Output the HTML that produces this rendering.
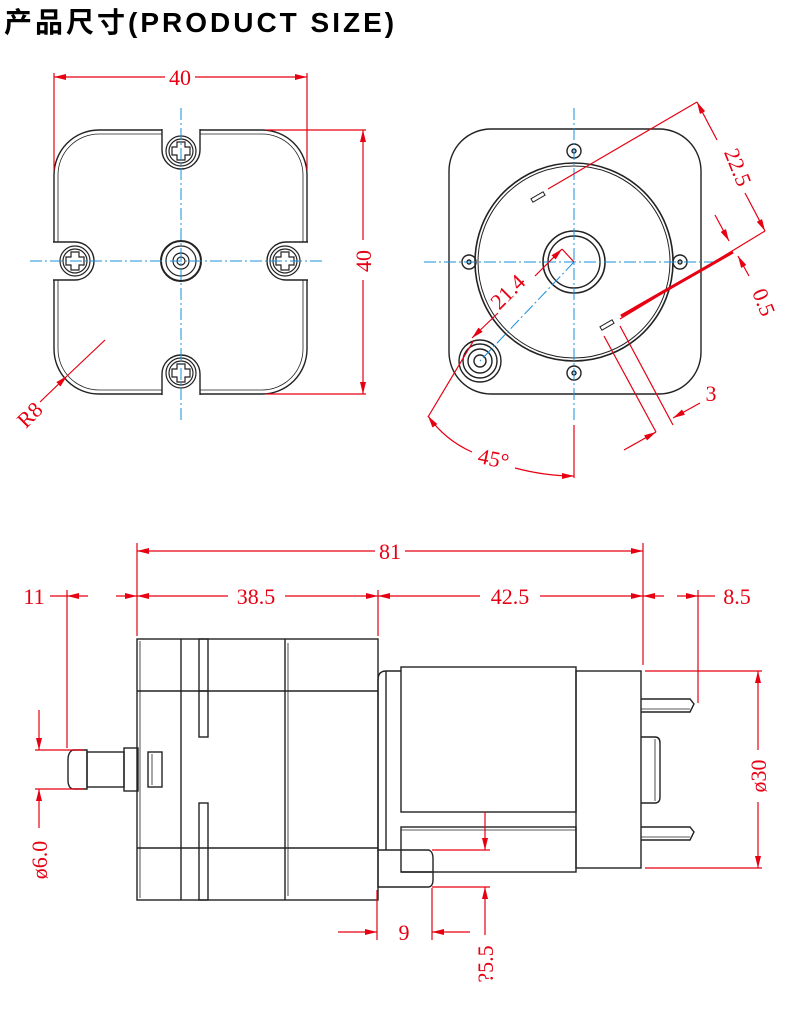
<!DOCTYPE html>
<html><head><meta charset="utf-8"><style>
html,body{margin:0;padding:0;background:#fff;}
svg{display:block;}
.t{font-family:"Liberation Sans","Noto Sans CJK SC",sans-serif;font-weight:bold;}
.d{font-family:"Liberation Serif","DejaVu Serif",serif;fill:#e60012;font-size:22px;}
</style></head><body>
<svg width="790" height="1015" viewBox="0 0 790 1015" xmlns="http://www.w3.org/2000/svg">
<defs>
<marker id="a" viewBox="0 0 12 6" refX="12" refY="3" markerWidth="12" markerHeight="6" markerUnits="userSpaceOnUse" orient="auto-start-reverse"><path d="M0,0 L12,3 L0,6 Z" fill="#e60012"/></marker>
</defs>
<text x="4" y="32" class="t" font-size="28" letter-spacing="3">产品尺寸(PRODUCT SIZE)</text>

<!-- ========== LEFT VIEW ========== -->
<g fill="none" stroke="#222" stroke-width="1.4">
<rect x="54" y="130" width="253" height="264" rx="45"/>
<rect x="58" y="134" width="245" height="256" rx="41" stroke-width="0.8"/>
</g>
<g fill="#fff" stroke="#222" stroke-width="1.4">
<path d="M162,129 V150 A19,19 0 0 0 200,150 V129"/>
<path d="M162,395 V374 A19,19 0 0 1 200,374 V395"/>
<path d="M53,242 H75 A19,19 0 0 1 75,280 H53"/>
<path d="M308,242 H286 A19,19 0 0 0 286,280 H308"/>
</g>
<g fill="none" stroke="#222" stroke-width="1.2">
<circle cx="181" cy="151" r="15"/><circle cx="181" cy="151" r="12"/>
<circle cx="181" cy="373" r="15"/><circle cx="181" cy="373" r="12"/>
<circle cx="75" cy="261" r="15"/><circle cx="75" cy="261" r="12"/>
<circle cx="285" cy="261" r="15"/><circle cx="285" cy="261" r="12"/>
<path d="M177,142 h8 v5 h5 v8 h-5 v5 h-8 v-5 h-5 v-8 h5z"/>
<path d="M177,364 h8 v5 h5 v8 h-5 v5 h-8 v-5 h-5 v-8 h5z"/>
<path d="M71,252 h8 v5 h5 v8 h-5 v5 h-8 v-5 h-5 v-8 h5z"/>
<path d="M281,252 h8 v5 h5 v8 h-5 v5 h-8 v-5 h-5 v-8 h5z"/>
<circle cx="181" cy="261" r="20" stroke-width="2"/><circle cx="181" cy="261" r="15"/>
<circle cx="181" cy="261" r="8"/><circle cx="181" cy="261" r="4"/>
</g>
<g stroke="#1a8fdc" stroke-width="1" stroke-dasharray="12,3,2,3">
<line x1="181" y1="108" x2="181" y2="420"/>
<line x1="30" y1="261" x2="325" y2="261"/>
</g>
<g stroke="#e60012" stroke-width="1.2" fill="none">
<line x1="54" y1="73" x2="54" y2="170"/>
<line x1="307" y1="73" x2="307" y2="170"/>
<line x1="54" y1="77" x2="165" y2="77" marker-start="url(#a)"/>
<line x1="195" y1="77" x2="307" y2="77" marker-end="url(#a)"/>
<line x1="265" y1="130" x2="366" y2="130"/>
<line x1="265" y1="394" x2="366" y2="394"/>
<line x1="363" y1="130" x2="363" y2="240" marker-start="url(#a)"/>
<line x1="363" y1="280" x2="363" y2="394" marker-end="url(#a)"/>
<line x1="105" y1="340" x2="67" y2="376"/>
<line x1="40" y1="402" x2="67" y2="376" marker-end="url(#a)"/>
</g>
<text class="d" x="180" y="85" text-anchor="middle">40</text>
<text class="d" transform="translate(371,261) rotate(-90)" text-anchor="middle">40</text>
<text class="d" transform="translate(35,420) rotate(-45)" text-anchor="middle">R8</text>

<!-- ========== RIGHT VIEW ========== -->
<g fill="none" stroke="#222" stroke-width="1.4">
<rect x="449" y="129" width="252" height="265" rx="42"/>
<circle cx="574" cy="262" r="99" stroke-width="1.6"/>
<circle cx="574" cy="262" r="96" stroke-width="1"/>
<circle cx="574" cy="262" r="31" stroke-width="1.6"/>
<circle cx="574" cy="262" r="26"/>
<circle cx="574" cy="151" r="7"/><circle cx="574" cy="151" r="2"/>
<circle cx="574" cy="373" r="7"/><circle cx="574" cy="373" r="2"/>
<circle cx="469" cy="262" r="7"/><circle cx="469" cy="262" r="2"/>
<circle cx="680" cy="262" r="7"/><circle cx="680" cy="262" r="2"/>
<circle cx="480" cy="361" r="21"/><circle cx="480" cy="361" r="17"/>
<circle cx="480" cy="361" r="12"/><circle cx="480" cy="361" r="6"/>
<rect x="-7" y="-2" width="14" height="4" transform="translate(538,197) rotate(-30)" stroke-width="1"/>
<rect x="-7" y="-2" width="14" height="4" transform="translate(607,325) rotate(-30)" stroke-width="1"/>
</g>
<g stroke="#1a8fdc" stroke-width="1" stroke-dasharray="12,3,2,3">
<line x1="574" y1="108" x2="574" y2="420"/>
<line x1="424" y1="262" x2="718" y2="262"/>
<line x1="574" y1="262" x2="480" y2="361"/>
</g>
<g stroke="#e60012" stroke-width="1.2" fill="none">
<line x1="548" y1="189" x2="697" y2="102"/>
<line x1="697" y1="102" x2="717" y2="140" marker-start="url(#a)"/>
<line x1="745" y1="193" x2="765" y2="231" marker-end="url(#a)"/>
<line x1="765" y1="231" x2="620" y2="319"/>
<line x1="621" y1="316" x2="733" y2="252" stroke-width="3"/>
<line x1="715" y1="215" x2="729" y2="241" marker-end="url(#a)"/>
<line x1="749" y1="276" x2="738" y2="256" marker-end="url(#a)"/>
<line x1="604" y1="336" x2="656" y2="432"/>
<line x1="620" y1="326" x2="673" y2="425"/>
<line x1="624" y1="450" x2="656" y2="432" marker-end="url(#a)"/>
<line x1="700" y1="403" x2="673" y2="418" marker-end="url(#a)"/>
<line x1="574" y1="262" x2="562" y2="249"/>
<line x1="428" y1="417" x2="474" y2="340"/>
<line x1="535" y1="276" x2="562" y2="249" marker-end="url(#a)"/>
<line x1="498" y1="313" x2="472" y2="338" marker-end="url(#a)"/>
<line x1="574" y1="425" x2="574" y2="478"/>
<path d="M428,416 Q445,440 472,452" marker-start="url(#a)"/>
<path d="M515,468 Q545,476 574,476" marker-end="url(#a)"/>
</g>
<text class="d" transform="translate(731,170) rotate(68)" text-anchor="middle">22.5</text>
<text class="d" transform="translate(757,305) rotate(68)" text-anchor="middle">0.5</text>
<text class="d" x="711" y="401" text-anchor="middle">3</text>
<text class="d" transform="translate(513,297) rotate(-45)" text-anchor="middle">21.4</text>
<text class="d" transform="translate(492,466) rotate(12)" text-anchor="middle">45°</text>

<!-- ========== SIDE VIEW ========== -->
<g fill="none" stroke="#222" stroke-width="1.4">
<rect x="137" y="639" width="241" height="261"/>
<line x1="140" y1="641" x2="140" y2="898" stroke-width="0.8"/>
<line x1="137" y1="691" x2="378" y2="691"/>
<line x1="137" y1="848" x2="378" y2="848"/>
<line x1="181" y1="639" x2="181" y2="900"/>
<line x1="285" y1="639" x2="285" y2="900"/>
<line x1="288" y1="643" x2="288" y2="896" stroke-width="0.8"/>
<rect x="199" y="639" width="9" height="98"/>
<rect x="199" y="803" width="9" height="97"/>
<line x1="199" y1="691" x2="208" y2="691"/>
<path d="M87,750 H73 Q68,752 68,760 V780 Q68,788 73,789 H87 Z"/>
<rect x="87" y="752" width="37" height="35"/>
<rect x="124" y="748" width="14" height="43"/>
<rect x="148" y="752" width="14" height="35"/>
<line x1="152" y1="754" x2="152" y2="785" stroke-width="0.8"/>
<path d="M378,850 V680 Q378,671 386,671 H401"/>
<line x1="386" y1="671" x2="386" y2="850"/>
<rect x="401" y="667" width="175" height="145"/>
<rect x="401" y="827" width="175" height="45"/>
<line x1="401" y1="830" x2="576" y2="830" stroke-width="0.8"/>
<line x1="432" y1="872" x2="401" y2="872"/>
<rect x="576" y="671" width="65" height="197"/>
<path d="M641,699 H690 L694,704 L690,712 H641"/>
<line x1="641" y1="709" x2="690" y2="709" stroke-width="0.8"/>
<path d="M641,827 H690 L694,832 L690,840 H641"/>
<line x1="641" y1="837" x2="690" y2="837" stroke-width="0.8"/>
<path d="M641,737 H655 Q660,737 660,743 V797 Q660,803 655,803 H641"/>
<line x1="655" y1="739" x2="655" y2="801" stroke-width="0.8"/>
<path d="M378,850 H429 Q433,852 433,858 V880 Q433,886 429,887 H378 Z"/>
</g>
<g stroke="#e60012" stroke-width="1.2" fill="none">
<line x1="137" y1="543" x2="137" y2="636"/>
<line x1="643" y1="543" x2="643" y2="665"/>
<line x1="378" y1="590" x2="378" y2="636"/>
<line x1="67" y1="590" x2="67" y2="748"/>
<line x1="698" y1="590" x2="698" y2="703"/>
<line x1="137" y1="551" x2="375" y2="551" marker-start="url(#a)"/>
<line x1="405" y1="551" x2="643" y2="551" marker-end="url(#a)"/>
<line x1="50" y1="596" x2="67" y2="596"/>
<line x1="67" y1="596" x2="88" y2="596" marker-start="url(#a)"/>
<line x1="116" y1="596" x2="137" y2="596" marker-end="url(#a)"/>
<line x1="137" y1="596" x2="228" y2="596" marker-start="url(#a)"/>
<line x1="285" y1="596" x2="378" y2="596" marker-end="url(#a)"/>
<line x1="378" y1="596" x2="480" y2="596" marker-start="url(#a)"/>
<line x1="540" y1="596" x2="643" y2="596" marker-end="url(#a)"/>
<line x1="643" y1="596" x2="664" y2="596" marker-start="url(#a)"/>
<line x1="677" y1="596" x2="698" y2="596" marker-end="url(#a)"/>
<line x1="698" y1="596" x2="715" y2="596"/>
<line x1="35" y1="750" x2="84" y2="750"/>
<line x1="35" y1="789" x2="84" y2="789"/>
<line x1="39" y1="710" x2="39" y2="750" marker-end="url(#a)"/>
<line x1="39" y1="828" x2="39" y2="789" marker-end="url(#a)"/>
<line x1="645" y1="671" x2="762" y2="671"/>
<line x1="645" y1="868" x2="762" y2="868"/>
<line x1="758" y1="671" x2="758" y2="750" marker-start="url(#a)"/>
<line x1="758" y1="802" x2="758" y2="868" marker-end="url(#a)"/>
<line x1="377" y1="890" x2="377" y2="940"/>
<line x1="432" y1="888" x2="432" y2="940"/>
<line x1="338" y1="932" x2="377" y2="932" marker-end="url(#a)"/>
<line x1="470" y1="932" x2="432" y2="932" marker-end="url(#a)"/>
<line x1="432" y1="850" x2="490" y2="850"/>
<line x1="432" y1="887" x2="490" y2="887"/>
<line x1="485" y1="812" x2="485" y2="850" marker-end="url(#a)"/>
<line x1="485" y1="935" x2="485" y2="887" marker-end="url(#a)"/>
</g>
<text class="d" x="390" y="559" text-anchor="middle">81</text>
<text class="d" x="34" y="604" text-anchor="middle">11</text>
<text class="d" x="256" y="604" text-anchor="middle">38.5</text>
<text class="d" x="510" y="604" text-anchor="middle">42.5</text>
<text class="d" x="737" y="604" text-anchor="middle">8.5</text>
<text class="d" transform="translate(47,860) rotate(-90)" text-anchor="middle">ø6.0</text>
<text class="d" transform="translate(766,776) rotate(-90)" text-anchor="middle">ø30</text>
<text class="d" x="404" y="940" text-anchor="middle">9</text>
<text class="d" transform="translate(493,964) rotate(-90)" text-anchor="middle">?5.5</text>
</svg>
</body></html>
